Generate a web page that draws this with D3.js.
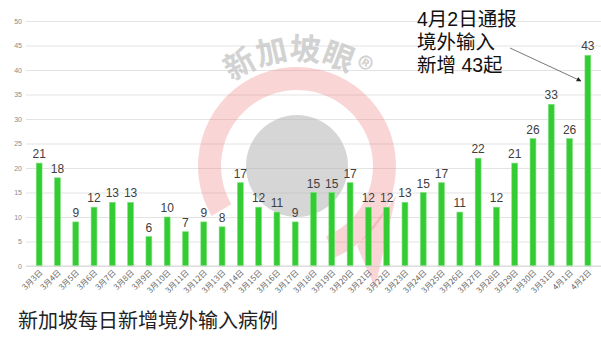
<!DOCTYPE html>
<html>
<head>
<meta charset="utf-8">
<script src="https://cdn.jsdelivr.net/npm/d3@7"></script>
<style>
  body { margin: 0; background: #fff; }
  svg { display: block; font-family: "Noto Sans CJK SC", "Noto Sans", sans-serif; }
</style>
</head>
<body>
<div id="chart"></div>
<script>
// Singapore daily imported cases, 3/3 - 4/2
const dates = ["3月3日","3月4日","3月5日","3月6日","3月7日","3月8日","3月9日","3月10日","3月11日","3月12日",
    "3月13日","3月14日","3月15日","3月16日","3月17日","3月18日","3月19日","3月20日","3月21日","3月22日",
    "3月23日","3月24日","3月25日","3月26日","3月27日","3月28日","3月29日","3月30日","3月31日","4月1日","4月2日"];
const cases = [21,18,9,12,13,13,6,10,7,9,8,17,12,11,9,15,15,17,12,12,13,15,17,11,22,12,21,26,33,26,43];
const yTicks = [0,5,10,15,20,25,30,35,40,45,50];
const title = "新加坡每日新增境外输入病例";
const noteLines = ["4月2日通报", "境外输入", "新增 43起"];

const width = 601, height = 340;
const svg = d3.select("#chart").append("svg")
    .attr("width", width)
    .attr("height", height);

const x = d3.scaleBand()
    .domain(dates)
    .range([30, 597])
    .paddingInner(0.68)
    .paddingOuter(0.34);

const y = d3.scaleLinear()
    .domain([0, 50])
    .range([266, 21]);

// gridlines + y labels
const yAxis = d3.axisLeft(y).tickValues(yTicks).tickSize(-(width - 26)).tickFormat(d3.format("d"));
const gy = svg.append("g")
    .attr("transform", "translate(26,0)")
    .call(yAxis);
gy.select(".domain").remove();
gy.selectAll(".tick line").attr("stroke", "#e3e3e3").attr("stroke-width", 1);
gy.selectAll(".tick text")
    .attr("x", -4)
    .attr("fill", "#8a8a8a")
    .style("font-size", "7px")
    .style("font-family", "Liberation Sans, sans-serif");

// watermark
const wm = svg.append("g").attr("transform", "translate(297,166)");
wm.append("path")
    .attr("d", d3.arc().innerRadius(76).outerRadius(99).startAngle(-2.1).endAngle(2.75)())
    .attr("fill", "#f08080")
    .attr("opacity", 0.33);
wm.append("path")
    .attr("d", "M60,80 L99,30 L78,122 Z")
    .attr("fill", "#f08080")
    .attr("opacity", 0.33);
wm.append("circle")
    .attr("r", 51)
    .attr("fill", "#b4b4b4")
    .attr("opacity", 0.55);
wm.append("path").attr("id", "wmArc")
    .attr("d", d3.arc().innerRadius(106).outerRadius(106).startAngle(-1.5).endAngle(1.5)())
    .attr("fill", "none");
wm.append("text")
    .style("font-size", "31px")
    .style("font-weight", "bold")
    .attr("fill", "#c8c8c8")
    .attr("opacity", 0.8)
    .append("textPath")
    .attr("href", "#wmArc")
    .attr("startOffset", "25%")
    .attr("text-anchor", "middle")
    .text("新加坡眼®");

// bars
svg.selectAll("rect.bar")
    .data(cases)
    .join("rect")
    .attr("class", "bar")
    .attr("x", (d, i) => x(dates[i]))
    .attr("y", d => y(d))
    .attr("width", x.bandwidth())
    .attr("height", d => y(0) - y(d))
    .attr("fill", "#33cc33")
    .attr("stroke", "#7ee07e")
    .attr("stroke-width", 0.6);

// value labels
svg.selectAll("text.val")
    .data(cases)
    .join("text")
    .attr("class", "val")
    .attr("x", (d, i) => x(dates[i]) + x.bandwidth() / 2)
    .attr("y", d => y(d) - 5)
    .attr("text-anchor", "middle")
    .attr("fill", "#404040")
    .style("font-size", "12px")
    .style("font-family", "Liberation Sans, sans-serif")
    .text(d => d);

// x axis
svg.append("line")
    .attr("x1", 26).attr("x2", width)
    .attr("y1", y(0)).attr("y2", y(0))
    .attr("stroke", "#d9d9d9");

svg.selectAll("text.xl")
    .data(dates)
    .join("text")
    .attr("class", "xl")
    .attr("transform", d => `translate(${x(d) + x.bandwidth() / 2 + 4},${y(0) + 7}) rotate(-45)`)
    .attr("text-anchor", "end")
    .attr("fill", "#666")
    .style("font-size", "8px")
    .text(d => d);

// title
svg.append("text")
    .attr("x", 18)
    .attr("y", 328)
    .attr("fill", "#222")
    .style("font-size", "20px")
    .text(title);

// annotation
svg.append("g").selectAll("text")
    .data(noteLines)
    .join("text")
    .attr("x", 417)
    .attr("y", (d, i) => 26 + i * 23)
    .attr("fill", "#111")
    .style("font-size", "19.5px")
    .style("font-family", "Liberation Sans, 'Noto Sans CJK SC', sans-serif")
    .text(d => d);

svg.append("defs").append("marker")
    .attr("id", "arrow")
    .attr("viewBox", "0 0 10 10")
    .attr("refX", 9).attr("refY", 5)
    .attr("markerWidth", 6).attr("markerHeight", 6)
    .attr("orient", "auto")
    .append("path")
    .attr("d", "M0,0 L10,5 L0,10 Z")
    .attr("fill", "#222");

svg.append("line")
    .attr("x1", 510).attr("y1", 48)
    .attr("x2", 581).attr("y2", 81)
    .attr("stroke", "#555")
    .attr("stroke-width", 0.8)
    .attr("marker-end", "url(#arrow)");
</script>
</body>
</html>
